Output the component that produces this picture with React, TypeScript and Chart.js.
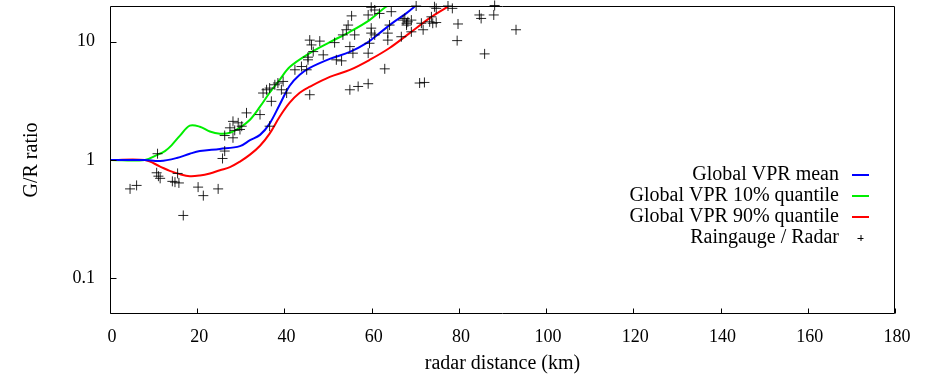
import React, { useEffect, useRef } from "react";
import { Chart, registerables } from "chart.js";

Chart.register(...registerables);

// ---- Data ----
const meanX = [0, 8, 11.5, 15.3, 18.3, 20.6, 25.2, 29.8, 32.1, 34.4, 36.6, 38.9, 41.2, 43.5, 45.8, 50.4, 55.0, 58.9, 61.8, 64.8, 68.0, 70.3];
const meanY = [1, 1, 0.98, 1.04, 1.13, 1.19, 1.24, 1.31, 1.47, 1.63, 2.03, 2.93, 4.24, 5.25, 6.0, 7.15, 8.19, 9.75, 11.8, 14.4, 17.4, 20.4];

const q10X = [0, 8, 10.7, 12.6, 14.1, 16, 18.3, 20.6, 22.9, 25.2, 27.5, 29.8, 32.1, 34.4, 36.6, 38.9, 41.2, 45.8, 50.4, 55.0, 59.5, 63.2, 64.5];
const q10Y = [1, 1, 1.1, 1.19, 1.33, 1.6, 1.95, 1.91, 1.74, 1.67, 1.7, 1.88, 2.19, 2.82, 3.7, 4.76, 6.1, 8.0, 9.9, 12.1, 15.2, 19.6, 20.6];

const q90X = [0, 8, 11.5, 13.7, 16, 18.3, 20.6, 22.9, 25.2, 27.5, 29.8, 32.1, 34.4, 36.6, 38.9, 41.2, 43.5, 45.8, 50.4, 55.0, 59.5, 64.1, 68.7, 73.3, 77.2, 78.5];
const q90Y = [1, 1, 0.88, 0.81, 0.76, 0.73, 0.74, 0.77, 0.82, 0.87, 0.97, 1.11, 1.32, 1.67, 2.32, 3.05, 3.7, 4.16, 5.04, 5.77, 7.0, 8.83, 11.8, 15.8, 19.5, 21];

const gaugeX = [
  4.6, 6.1, 10.9, 10.7, 11.1, 11.5, 15.5, 14.3, 14.9, 15.8, 20.2, 21.4, 24.8, 16.8, 26.3, 25.8,
  26.3, 28.2, 27.5, 28.2, 29.4, 29.8, 30.2, 28.6, 31.3, 34.4, 36.6, 37.0, 35.1, 35.9, 36.6, 37.8,
  38.5, 39.7, 39.3, 40.5, 42.4, 43.9, 45.1, 45.4, 45.8, 59.9, 60.7, 61.8, 59.2, 55.4, 64.5, 54.6,
  54.2, 53.4, 56.1, 59.9, 59.9, 60.7, 64.1, 63.7, 63.7, 66.8, 67.2, 68.0, 45.8, 46.2, 48.1, 51.5,
  46.6, 45.4, 48.9, 55.0, 59.5, 59.2, 55.7, 51.9, 53.1, 63.0, 55.0, 56.9, 59.2, 70.2, 74.4, 74.8,
  77.5, 78.5, 88.2, 84.7, 85.1, 88.0, 67.6, 68.3, 69.1, 68.0, 69.1, 71.4, 71.8, 73.7, 74.0, 73.3,
  74.8, 79.8, 79.6, 85.9, 93.1, 71.0, 72.1,
];
const gaugeY = [
  0.57, 0.61, 1.13, 0.78, 0.73, 0.7, 0.77, 0.66, 0.65, 0.64, 0.59, 0.5, 0.57, 0.34, 1.19, 1.03,
  1.61, 1.54, 1.87, 2.12, 2.06, 1.81, 1.93, 1.78, 2.5, 2.42, 1.93, 3.13, 3.68, 3.92, 4.05, 4.32,
  4.47, 4.61, 3.92, 3.68, 5.78, 6.16, 5.78, 7.02, 3.56, 19.5, 18.5, 17.3, 16.8, 16.5, 17.9, 13.8,
  12.6, 11.4, 11.4, 13.0, 11.8, 11.4, 13.8, 11.8, 10.3, 11.0, 15.2, 14.3, 10.3, 9.38, 10.1, 9.81,
  8.24, 7.39, 7.73, 9.08, 9.69, 7.99, 7.99, 7.02, 6.88, 5.89, 3.92, 4.18, 4.41, 20.0, 19.7, 19.1,
  20.0, 19.1, 20.2, 16.8, 15.7, 16.8, 15.7, 14.7, 15.2, 13.8, 12.1, 14.3, 12.6, 16.2, 14.3, 14.7,
  14.5, 14.1, 10.2, 7.88, 12.6, 4.47, 4.52,
];

const xTickStep = 20;
const xMin = 0;
const xMax = 180;
const yMin = 0.05;
const yMax = 20;

const seriesLabels = ["Global VPR mean", "Global VPR 10% quantile", "Global VPR 90% quantile", "Raingauge / Radar"];
const xTitle = "radar distance (km)";
const yTitle = "G/R ratio";

const FONT = "'Liberation Serif', 'Times New Roman', serif";

function pts(xs: number[], ys: number[]) {
  return xs.map((x, i) => ({ x, y: ys[i] }));
}

function isDecade(v: number) {
  const l = Math.log10(v);
  return Math.abs(l - Math.round(l)) < 1e-9;
}

const gnuplotPlugin = {
  id: "gnuplotFrame",
  afterDraw(chart: any) {
    const { ctx, chartArea: a, scales } = chart;
    ctx.save();
    ctx.strokeStyle = "#000";
    ctx.lineWidth = 1;
    const L = Math.round(a.left) + 0.5;
    const R = Math.round(a.right) - 0.5;
    const T = Math.round(a.top) + 0.5;
    const B = Math.round(a.bottom) - 0.5;
    ctx.beginPath();
    ctx.rect(L, T, R - L, B - T);
    ctx.stroke();
    // x ticks (inward)
    ctx.beginPath();
    scales.x.ticks.forEach((t: any) => {
      const px = Math.round(scales.x.getPixelForValue(t.value)) + 0.5;
      ctx.moveTo(px, B);
      ctx.lineTo(px, B - 5);
    });
    // y ticks (inward)
    scales.y.ticks.forEach((t: any) => {
      const py = Math.round(scales.y.getPixelForValue(t.value)) + 0.5;
      if (py <= T + 1 || py >= B - 1) return;
      const len = isDecade(t.value) ? 6 : 3;
      ctx.moveTo(L, py);
      ctx.lineTo(L + len, py);
    });
    ctx.stroke();

    // legend
    const textRight = a.right - 56;
    const x0 = a.right - 43;
    const x1 = a.right - 26;
    let y = 175;
    ctx.font = `20px ${FONT}`;
    ctx.textAlign = "right";
    ctx.textBaseline = "middle";
    chart.data.datasets.forEach((ds: any) => {
      ctx.fillStyle = "#000";
      ctx.fillText(ds.label, textRight, y);
      if (ds.showLine) {
        ctx.strokeStyle = ds.borderColor;
        ctx.lineWidth = 2;
        ctx.beginPath();
        ctx.moveTo(x0, y);
        ctx.lineTo(x1, y);
        ctx.stroke();
      } else {
        const cx = (x0 + x1) / 2;
        ctx.strokeStyle = "#000";
        ctx.lineWidth = 1;
        ctx.beginPath();
        ctx.moveTo(cx - 3, y + 0.5);
        ctx.lineTo(cx + 3, y + 0.5);
        ctx.moveTo(cx + 0.5, y - 3);
        ctx.lineTo(cx + 0.5, y + 3);
        ctx.stroke();
      }
      y += 21;
    });
    ctx.restore();
  },
};

export default function App() {
  const ref = useRef<HTMLCanvasElement>(null);
  useEffect(() => {
    const lineDs = (label: string, xs: number[], ys: number[], color: string) => ({
      type: "scatter" as const,
      label,
      data: pts(xs, ys),
      showLine: true,
      borderColor: color,
      backgroundColor: color,
      borderWidth: 2,
      pointRadius: 0,
      tension: 0.35,
      order: 1,
    });
    const chart = new Chart(ref.current as HTMLCanvasElement, {
      type: "scatter",
      data: {
        datasets: [
          lineDs(seriesLabels[0], meanX, meanY, "#0000ff"),
          lineDs(seriesLabels[1], q10X, q10Y, "#00ee00"),
          lineDs(seriesLabels[2], q90X, q90Y, "#ff0000"),
          {
            label: seriesLabels[3],
            data: pts(gaugeX, gaugeY),
            showLine: false,
            pointStyle: "cross",
            pointRadius: 5,
            pointBorderWidth: 1,
            borderColor: "rgba(0,0,0,0.85)",
            backgroundColor: "rgba(0,0,0,0.85)",
            clip: false,
            order: 0,
          } as any,
        ],
      },
      options: {
        animation: false,
        responsive: false,
        maintainAspectRatio: false,
        devicePixelRatio: 1,
        layout: { padding: { left: 0, right: 33, top: 6, bottom: 0 } },
        plugins: { legend: { display: false }, tooltip: { enabled: false } },
        scales: {
          x: {
            type: "linear",
            min: xMin,
            max: xMax,
            grid: { display: false, drawTicks: false },
            border: { display: false },
            ticks: {
              stepSize: xTickStep,
              color: "#000",
              font: { family: FONT, size: 18 },
              padding: 12,
              labelOffset: 2,
              maxRotation: 0,
              autoSkip: false,
            },
            title: {
              display: true,
              text: xTitle,
              color: "#000",
              font: { family: FONT, size: 20 },
              padding: { top: 0, bottom: 3 },
            },
            afterFit: (s: any) => {
              s.height = 65;
            },
          },
          y: {
            type: "logarithmic",
            min: yMin,
            max: yMax,
            grid: { display: false, drawTicks: false },
            border: { display: false },
            ticks: {
              color: "#000",
              font: { family: FONT, size: 18 },
              padding: 15,
              autoSkip: false,
              callback: (v: any) => (isDecade(Number(v)) ? String(Number(v)) : null),
            },
            title: {
              display: true,
              text: yTitle,
              color: "#000",
              font: { family: FONT, size: 20 },
              padding: { top: 20, bottom: 0 },
            },
            afterFit: (s: any) => {
              s.width = 110;
              s.paddingTop = 0;
              s.paddingBottom = 0;
            },
          },
        },
      } as any,
      plugins: [gnuplotPlugin],
    });
    return () => chart.destroy();
  }, []);
  return (
    <div style={{ position: "fixed", left: 0, top: 0, width: 928, height: 379, background: "#fff" }}>
      <canvas ref={ref} width={928} height={379} style={{ display: "block", width: 928, height: 379 }} />
    </div>
  );
}
